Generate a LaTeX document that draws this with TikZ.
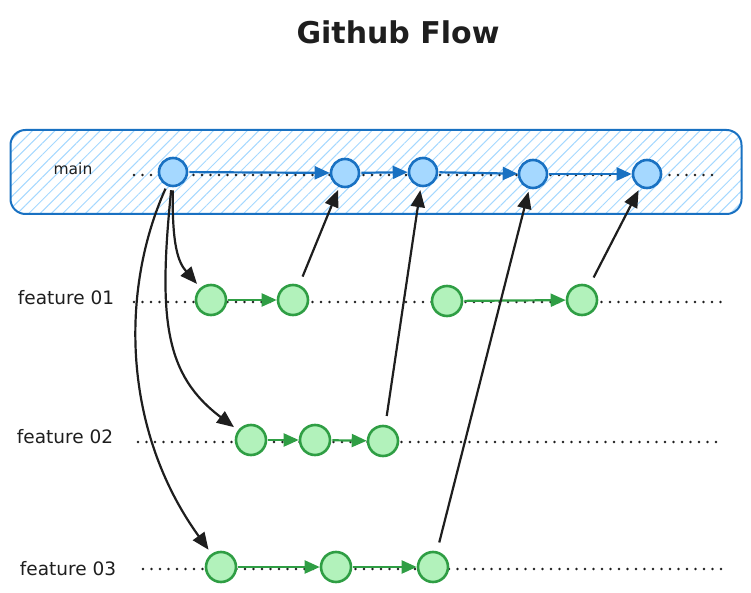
\documentclass[tikz,border=0pt]{standalone}
\usepackage{fontspec}
\setmainfont{DejaVu Sans}
\usetikzlibrary{arrows.meta,patterns.meta}

\definecolor{mainline}{HTML}{1971C2}
\definecolor{mainfill}{HTML}{A5D8FF}
\definecolor{featline}{HTML}{2F9E44}
\definecolor{featfill}{HTML}{B2F2BB}
\definecolor{ink}{HTML}{1E1E1E}

\begin{document}
\begin{tikzpicture}[
    x=1pt, y=-1pt,
    lane/.style={draw=mainline, line width=2pt, rounded corners=15pt,
        pattern={Lines[angle=45,distance=8pt,line width=1pt]}, pattern color=mainfill},
    maincommit/.style={circle, draw=mainline, fill=mainfill, line width=2.6pt, minimum size=28pt, inner sep=0pt},
    featcommit/.style={circle, draw=featline, fill=featfill, line width=2.6pt, minimum size=30pt, inner sep=0pt},
    branchname/.style={font=\fontsize{18.5}{20}\selectfont, text=ink},
    timeline/.style={line width=2.6pt, line cap=round, dash pattern=on 0pt off 8.5pt, ink},
    bluearrow/.style={-{Triangle[length=15pt,width=13pt]}, mainline, line width=2.2pt, shorten <=1pt},
    greenarrow/.style={-{Triangle[length=15pt,width=13pt]}, featline, line width=2.2pt, shorten <=1pt},
    flow/.style={-{Triangle[length=17pt,width=14pt]}, ink, line width=2.2pt, shorten >=5pt, shorten <=3pt},
    merge/.style={-{Triangle[length=17pt,width=14pt]}, ink, line width=2.2pt, shorten >=3pt, shorten <=9pt}
]
\useasboundingbox (0,0) rectangle (751,593);

% Title
\node[font=\fontsize{30}{34}\selectfont\bfseries, text=ink] (title) at (398,32) {Github Flow};

% Main lane
\node[lane, minimum width=731pt, minimum height=84pt] (lane) at (376,172) {};
\node[font=\fontsize{15.5}{17}\selectfont, text=ink] (mainname) at (73,169) {main};

% Timelines
\coordinate (mainL) at (134,175);  \coordinate (mainR) at (715,175);
\coordinate (oneL) at (134,302);   \coordinate (oneR) at (726,302);
\coordinate (twoL) at (138,442);   \coordinate (twoR) at (721,442);
\coordinate (threeL) at (143,569); \coordinate (threeR) at (726,569);
\draw[timeline] (mainL) -- (mainR);
\draw[timeline] (oneL) -- (oneR);
\draw[timeline] (twoL) -- (twoR);
\draw[timeline] (threeL) -- (threeR);

% Branch names
\node[branchname] (nameone) at (66,298) {feature 01};
\node[branchname] (nametwo) at (65,437) {feature 02};
\node[branchname] (namethree) at (68,569) {feature 03};

% Main commits
\node[maincommit] (m1) at (173,172) {};
\node[maincommit] (m2) at (345,173) {};
\node[maincommit] (m3) at (423,172) {};
\node[maincommit] (m4) at (533,174) {};
\node[maincommit] (m5) at (647,174) {};

% Feature commits
\node[featcommit] (a1) at (211,300) {};
\node[featcommit] (a2) at (293,300) {};
\node[featcommit] (a3) at (447,301) {};
\node[featcommit] (a4) at (582,300) {};
\node[featcommit] (b1) at (251,440) {};
\node[featcommit] (b2) at (315,440) {};
\node[featcommit] (b3) at (383,441) {};
\node[featcommit] (c1) at (221,567) {};
\node[featcommit] (c2) at (336,567) {};
\node[featcommit] (c3) at (433,567) {};

% Commits along each branch
\draw[bluearrow] (m1) -- (m2);
\draw[bluearrow] (m2) -- (m3);
\draw[bluearrow] (m3) -- (m4);
\draw[bluearrow] (m4) -- (m5);
\draw[greenarrow] (a1) -- (a2);
\draw[greenarrow] (a3) -- (a4);
\draw[greenarrow] (b1) -- (b2);
\draw[greenarrow] (b2) -- (b3);
\draw[greenarrow] (c1) -- (c2);
\draw[greenarrow] (c2) -- (c3);

% Branching off main
\draw[flow] (m1) .. controls (172,245) and (178,262) .. (a1);
\draw[flow] (m1) .. controls (158,320) and (165,375) .. (b1);
\draw[flow] (m1) .. controls (120,290) and (122,430) .. (c1);

% Merging back
\draw[merge] (a2) -- (m2);
\draw[merge] (b3) -- (m3);
\draw[merge] (c3) -- (m4);
\draw[merge] (a4) -- (m5);

\end{tikzpicture}
\end{document}
